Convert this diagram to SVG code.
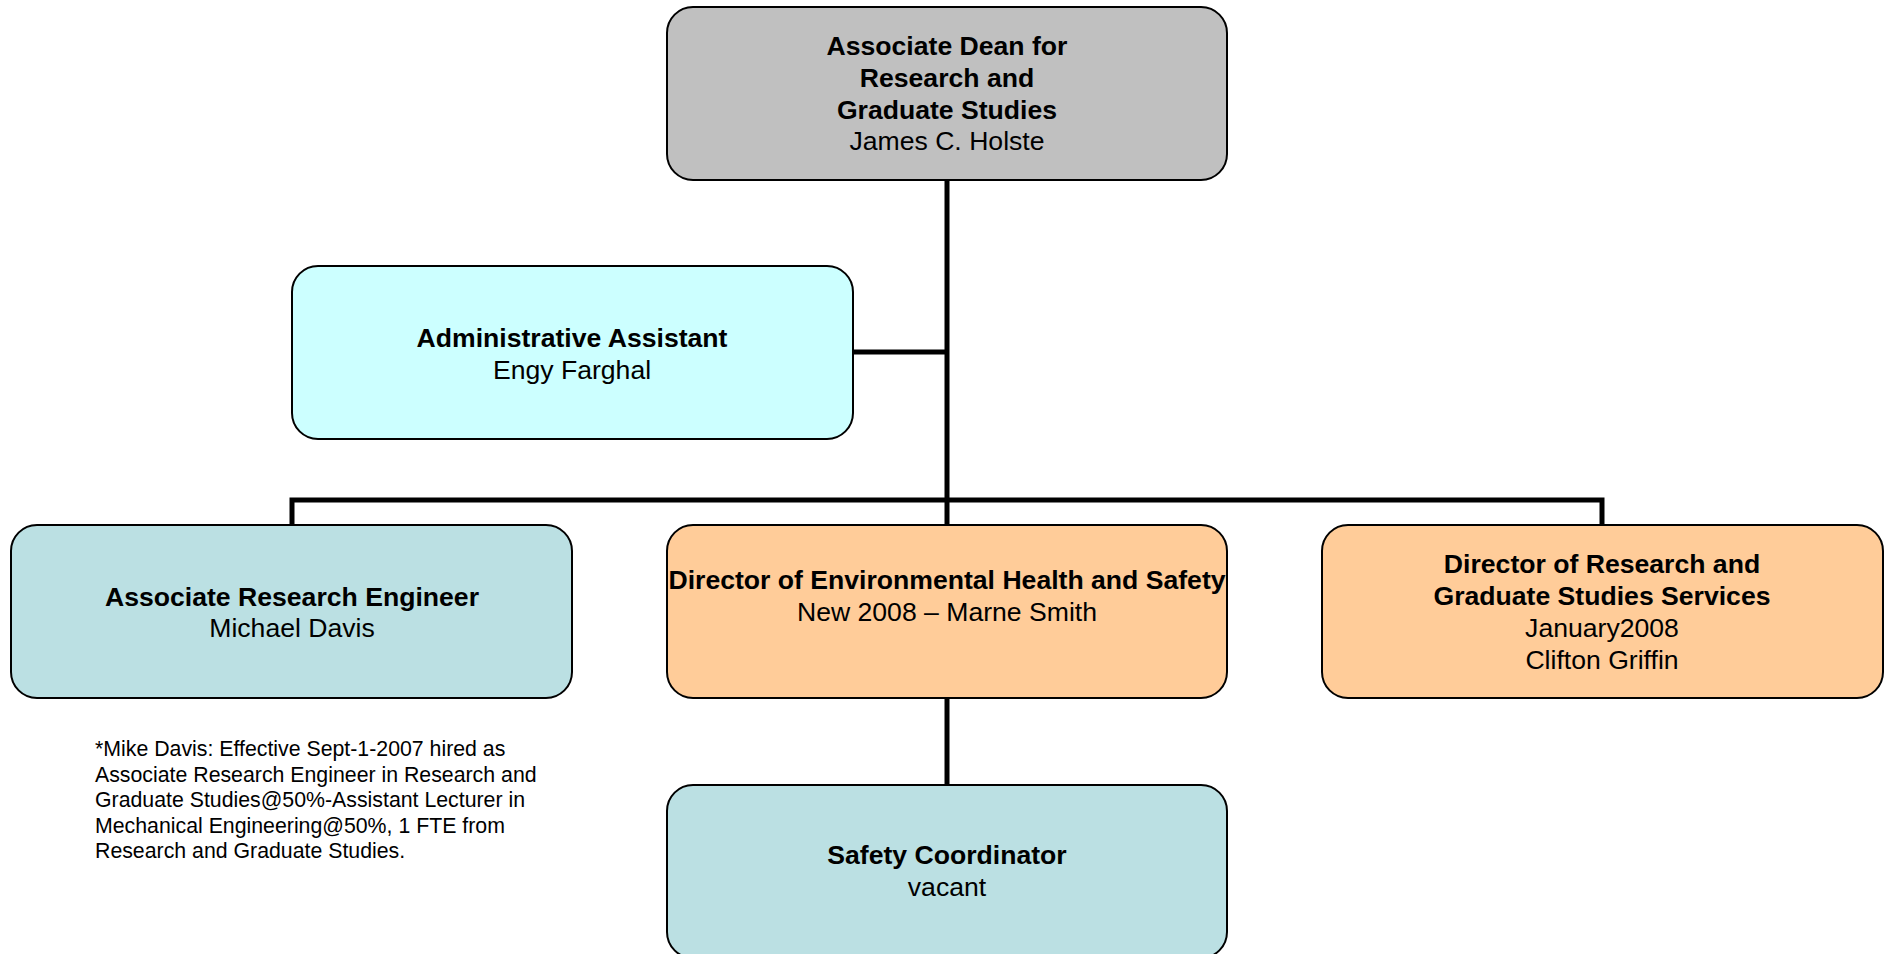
<svg xmlns="http://www.w3.org/2000/svg" width="1890" height="954" viewBox="0 0 1890 954">
<style>
.box{stroke:#000;stroke-width:2}
.gray{fill:#C0C0C0}.cyan{fill:#CCFFFF}.blue{fill:#BBE0E3}.orange{fill:#FFCC99}
text{font-family:"Liberation Sans",Arial,sans-serif;font-size:26.6px;fill:#000;text-anchor:middle}
.b{font-weight:bold}
.note{font-size:21.3px;text-anchor:start}
.conn{stroke:#000;stroke-width:5;fill:none}
</style>
<rect width="1890" height="954" fill="#fff"/>
<g id="connectors">
<path class="conn" d="M947 180V524"/>
<path class="conn" d="M853 352H947"/>
<path class="conn" d="M292 525V500H1602V525"/>
<path class="conn" d="M947 698V785"/>
</g>
<g id="dean">
<rect class="box gray" x="667" y="7" width="560" height="173" rx="26"/>
<text class="b" x="947" y="55">Associate Dean for</text>
<text class="b" x="947" y="87">Research and</text>
<text class="b" x="947" y="119">Graduate Studies</text>
<text x="947" y="150">James C. Holste</text>
</g>
<g id="admin">
<rect class="box cyan" x="292" y="266" width="561" height="173" rx="26"/>
<text class="b" x="572" y="347">Administrative Assistant</text>
<text x="572" y="379">Engy Farghal</text>
</g>
<g id="engineer">
<rect class="box blue" x="11" y="525" width="561" height="173" rx="26"/>
<text class="b" x="292" y="606">Associate Research Engineer</text>
<text x="292" y="637">Michael Davis</text>
</g>
<g id="ehs">
<rect class="box orange" x="667" y="525" width="560" height="173" rx="26"/>
<text class="b" x="947" y="589">Director of Environmental Health and Safety</text>
<text x="947" y="621">New 2008 – Marne Smith</text>
</g>
<g id="services">
<rect class="box orange" x="1322" y="525" width="561" height="173" rx="26"/>
<text class="b" x="1602" y="573">Director of Research and</text>
<text class="b" x="1602" y="605">Graduate Studies Services</text>
<text x="1602" y="637">January2008</text>
<text x="1602" y="669">Clifton Griffin</text>
</g>
<g id="safety">
<rect class="box blue" x="667" y="785" width="560" height="173" rx="26"/>
<text class="b" x="947" y="864">Safety Coordinator</text>
<text x="947" y="896">vacant</text>
</g>
<g id="note">
<text class="note" x="95" y="756">*Mike Davis: Effective Sept-1-2007 hired as</text>
<text class="note" x="95" y="782">Associate Research Engineer in Research and</text>
<text class="note" x="95" y="807">Graduate Studies@50%-Assistant Lecturer in</text>
<text class="note" x="95" y="833">Mechanical Engineering@50%, 1 FTE from</text>
<text class="note" x="95" y="858">Research and Graduate Studies.</text>
</g>
</svg>
